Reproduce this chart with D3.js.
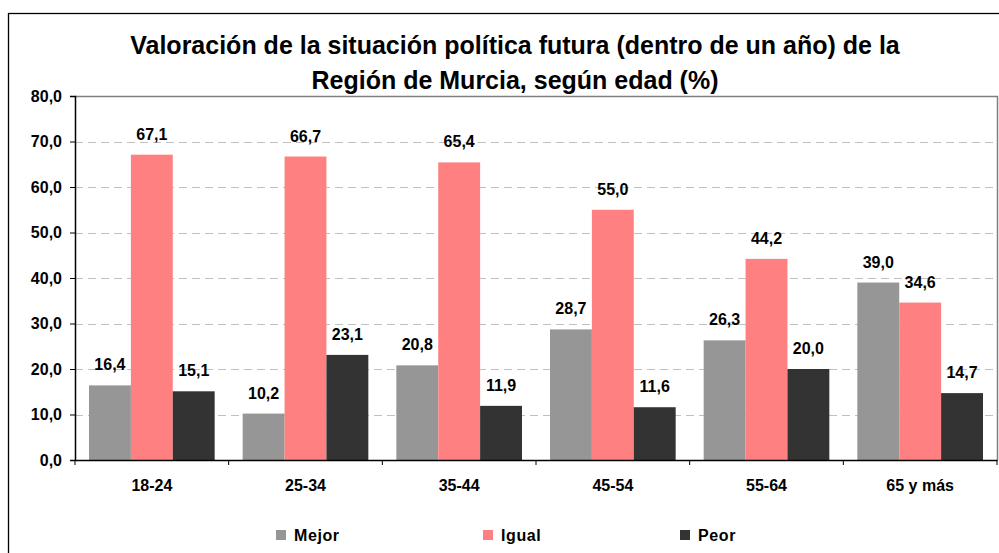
<!DOCTYPE html>
<html>
<head>
<meta charset="utf-8">
<script src="https://cdn.jsdelivr.net/npm/d3@7"></script>
<style>
  body { margin: 0; background: #fff; }
  text { font-family: "Liberation Sans", Arial, sans-serif; font-weight: bold; }
</style>
</head>
<body>
<svg id="chart" width="999" height="553"></svg>
<script>
var categories = ["18-24", "25-34", "35-44", "45-54", "55-64", "65 y más"];
var seriesNames = ["Mejor", "Igual", "Peor"];
var mejor = [16.4, 10.2, 20.8, 28.7, 26.3, 39.0];
var igual = [67.1, 66.7, 65.4, 55.0, 44.2, 34.6];
var peor = [15.1, 23.1, 11.9, 11.6, 20.0, 14.7];
var yTicks = [0, 10, 20, 30, 40, 50, 60, 70, 80];
var colors = ["#969696", "#FF8080", "#333333"];

var series = [mejor, igual, peor];
var fmt = v => d3.format(".1f")(v).replace(".", ",");

var svg = d3.select("#chart");
var mLeft = 75, mRight = 997, mTop = 96, mBottom = 460;

// outer frame
svg.append("rect")
  .attr("x", 8.5).attr("y", 13.5)
  .attr("width", 1100).attr("height", 600)
  .attr("fill", "#fff").attr("stroke", "#000").attr("stroke-width", 1.3);

svg.append("text")
  .attr("x", 515).attr("y", 54)
  .attr("text-anchor", "middle")
  .style("font-size", "25px")
  .text("Valoración de la situación política futura (dentro de un año) de la");
svg.append("text")
  .attr("x", 515).attr("y", 89)
  .attr("text-anchor", "middle")
  .style("font-size", "25px")
  .text("Región de Murcia, según edad (%)");

var x0 = d3.scaleBand().domain(categories).range([mLeft, mRight]).paddingInner(0).paddingOuter(0);
var x1 = d3.scaleBand().domain(seriesNames).range([14, x0.bandwidth() - 14]);
var y = d3.scaleLinear().domain([0, 80]).range([mBottom, mTop]);

// grid
svg.append("g")
  .selectAll("line")
  .data(yTicks.filter(d => d > 0 && d < 80))
  .enter().append("line")
  .attr("x1", mLeft).attr("x2", mRight)
  .attr("y1", d => Math.round(y(d)) + 0.5).attr("y2", d => Math.round(y(d)) + 0.5)
  .attr("stroke", "#c0c0c0").attr("stroke-dasharray", "8,5");

// plot border (top, right)
svg.append("path")
  .attr("d", `M${mLeft},${mTop + 0.5}H${mRight + 0.5}V${mBottom}`)
  .attr("fill", "none").attr("stroke", "#808080").attr("stroke-width", 1.5);

var groups = svg.append("g")
  .selectAll("g")
  .data(categories)
  .enter().append("g")
  .attr("transform", d => `translate(${x0(d)},0)`);

groups.selectAll("rect")
  .data((d, i) => seriesNames.map((s, j) => ({ s: s, j: j, v: series[j][i] })))
  .enter().append("rect")
  .attr("x", d => x1(d.s))
  .attr("width", x1.bandwidth())
  .attr("y", d => y(d.v))
  .attr("height", d => mBottom - y(d.v))
  .attr("fill", d => colors[d.j]);

groups.selectAll("text")
  .data((d, i) => seriesNames.map((s, j) => ({ s: s, j: j, v: series[j][i] })))
  .enter().append("text")
  .attr("x", d => x1(d.s) + x1.bandwidth() / 2)
  .attr("y", d => y(d.v) - 15)
  .attr("text-anchor", "middle")
  .style("font-size", "16px")
  .text(d => fmt(d.v));

// y axis
var yAxis = svg.append("g")
  .attr("transform", `translate(${mLeft},0)`)
  .call(d3.axisLeft(y).tickValues(yTicks).tickSize(5).tickPadding(8).tickFormat(fmt));
yAxis.select(".domain").attr("stroke", "#000").attr("stroke-width", 1.5);
yAxis.selectAll(".tick line").attr("stroke", "#000");
yAxis.selectAll("text").style("font-size", "16px").attr("fill", "#000")
  .style("font-family", "Liberation Sans, Arial, sans-serif").style("font-weight", "bold");

// x axis
var xAxis = svg.append("g")
  .attr("transform", `translate(0,${mBottom})`)
  .call(d3.axisBottom(x0).tickSize(0).tickPadding(20));
xAxis.select(".domain").attr("stroke", "#000").attr("stroke-width", 1.5);
xAxis.selectAll("text").style("font-size", "16px").attr("fill", "#000")
  .style("font-family", "Liberation Sans, Arial, sans-serif").style("font-weight", "bold");
xAxis.append("g")
  .selectAll("line")
  .data(d3.range(categories.length + 1))
  .enter().append("line")
  .attr("x1", i => mLeft + i * x0.bandwidth()).attr("x2", i => mLeft + i * x0.bandwidth())
  .attr("y1", 0).attr("y2", 5)
  .attr("stroke", "#000");

// legend
var legendX = [276, 483, 680];
var legend = svg.append("g")
  .selectAll("g")
  .data(seriesNames)
  .enter().append("g")
  .attr("transform", (d, i) => `translate(${legendX[i]},530)`);
legend.append("rect")
  .attr("width", 10).attr("height", 10)
  .attr("fill", (d, i) => colors[i]);
legend.append("text")
  .attr("x", 18).attr("y", 11)
  .style("font-size", "16px")
  .style("letter-spacing", "0.6px")
  .text(d => d);
</script>
</body>
</html>
